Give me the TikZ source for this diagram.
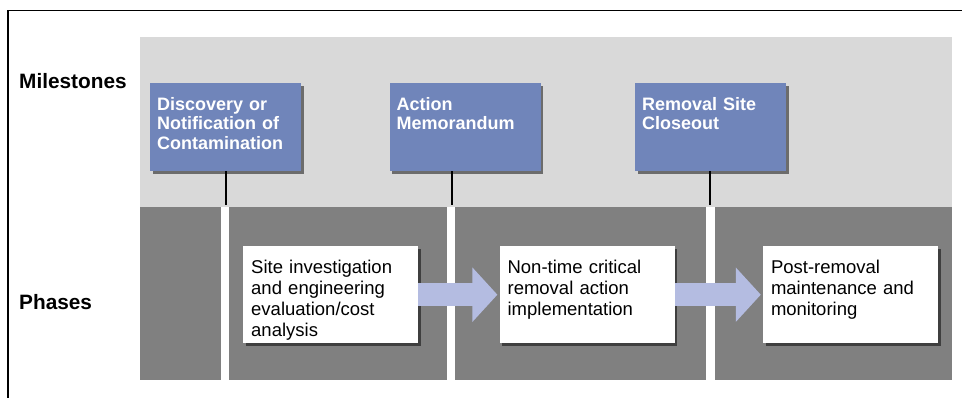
\documentclass[tikz,border=0pt]{standalone}
\usepackage{fontspec}
\setmainfont{Liberation Sans}
\usetikzlibrary{positioning, arrows.meta, shadows}
\definecolor{lightband}{RGB}{217,217,217}
\definecolor{darkband}{RGB}{128,128,128}
\definecolor{mileblue}{RGB}{112,133,186}
\definecolor{flowcol}{RGB}{180,188,225}

\begin{document}
\begin{tikzpicture}[x=1pt, y=-1pt,
		milestone/.style={fill=mileblue, text=white, anchor=north west, font=\bfseries\fontsize{18}{19.7}\selectfont, text width=137pt, align=left, inner xsep=7pt, inner ysep=0pt, text height=27pt, text depth=61pt, drop shadow={shadow xshift=2.5pt, shadow yshift=-2.5pt, fill=black, opacity=0.5}},
		phase/.style={fill=white, anchor=north west, font=\fontsize{18.5}{21}\selectfont, text width=159pt, align=left, inner xsep=8pt, inner ysep=0pt, text height=27pt, text depth=70pt, drop shadow={shadow xshift=2.5pt, shadow yshift=-2.5pt, fill=black, opacity=0.5}},
		rowlabel/.style={anchor=base west, inner sep=0pt, font=\bfseries\fontsize{20.8}{24}\selectfont},
		tick/.style={line width=2pt},
		flow/.style={draw=flowcol, line width=23pt, -{Triangle[length=25pt, width=53pt]}, shorten >=2pt}]
		\useasboundingbox (0,0) rectangle (962,398);
		\draw[line width=1.3pt] (8,398) -- (8,10.5) -- (962,10.5);
		
		\fill[lightband] (140,37) rectangle (952,207);
		\foreach \a/\b in {140/221, 229/447, 455/706, 715/952}
			\fill[darkband] (\a,207) rectangle (\b,380);
		
		\node[rowlabel] (mlabel) at (19,89) {Milestones};
		\node[rowlabel] (plabel) at (19,309) {Phases};
		
		\node[milestone] (discovery) at (150,83) {Discovery or\\Notification of\\Contamination};
		\node[milestone, right=88pt of discovery] (memo) {Action\\Memorandum};
		\node[milestone, right=94pt of memo] (closeout) {Removal Site\\Closeout};
		
		\node[phase] (siteinv) at (243,246) {Site investigation\\and engineering\\evaluation/cost\\analysis};
		\node[phase, right=81pt of siteinv] (removal) {Non-time critical\\removal action\\implementation};
		\node[phase, right=88pt of removal] (postrem) {Post-removal\\maintenance and\\monitoring};
		
		\coordinate (g1) at (226,205);
		\coordinate (g2) at (452,205);
		\coordinate (g3) at (710,205);
		\draw[tick] (g1 |- discovery.south) -- (g1);
		\draw[tick] (g2 |- memo.south) -- (g2);
		\draw[tick] (g3 |- closeout.south) -- (g3);
		
		\draw[flow] (siteinv.east) -- (removal.west);
		\draw[flow] (removal.east) -- (postrem.west);
	\end{tikzpicture}
\end{document}
